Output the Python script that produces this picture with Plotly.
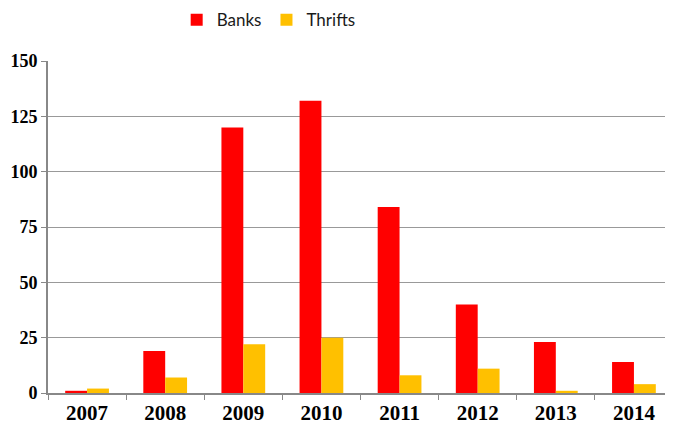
import plotly.graph_objects as go

years = ["2007", "2008", "2009", "2010", "2011", "2012", "2013", "2014"]
banks = [1, 19, 120, 132, 84, 40, 23, 14]
thrifts = [2, 7, 22, 25, 8, 11, 1, 4]
y_ticks = [0, 25, 50, 75, 100, 125, 150]

fig = go.Figure()
fig.add_trace(go.Bar(x=years, y=banks, name="Banks", marker=dict(color="#FF0000", line=dict(width=0))))
fig.add_trace(go.Bar(x=years, y=thrifts, name="Thrifts", marker=dict(color="#FFC000", line=dict(width=0))))

serif = "Liberation Serif, Times New Roman"

fig.update_layout(
    width=665, height=417,
    margin=dict(l=40, r=0, t=53, b=32, pad=0),
    paper_bgcolor="white", plot_bgcolor="white",
    barmode="group", bargap=0.44, bargroupgap=0,
    legend=dict(orientation="h", x=0.392, xanchor="center", xref="container",
                y=0.971, yanchor="middle", yref="container",
                font=dict(family="Lato, Liberation Sans", size=17, color="#1a1a1a"),
                itemwidth=30, traceorder="normal"),
    xaxis=dict(type="category", tickson="boundaries", ticks="outside", ticklen=5,
               tickcolor="#888", showline=True, linecolor="#888", linewidth=2,
               showgrid=False, automargin=False,
               tickfont=dict(family=serif, size=21, color="black", weight="bold")),
    yaxis=dict(range=[0, 150], tickvals=y_ticks, ticks="outside", ticklen=5,
               tickcolor="#888", showline=True, linecolor="#888", linewidth=2,
               showgrid=True, gridcolor="#999", gridwidth=1, zeroline=False,
               automargin=False,
               tickfont=dict(family=serif, size=18, color="black", weight="bold")),
)

fig.write_html("out.html")
